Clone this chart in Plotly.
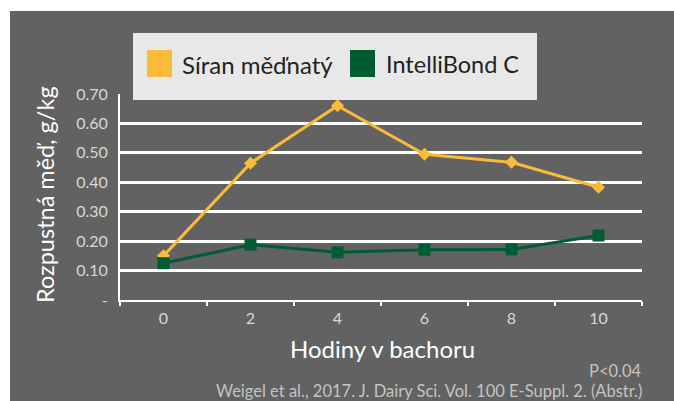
import plotly.graph_objects as go

hours = ["0", "2", "4", "6", "8", "10"]
siran = [0.15, 0.465, 0.66, 0.495, 0.468, 0.383]
intelli = [0.125, 0.188, 0.162, 0.171, 0.172, 0.219]
series_names = ["Síran měďnatý", "IntelliBond C"]
ytick_vals = [0, 0.1, 0.2, 0.3, 0.4, 0.5, 0.6, 0.7]
ytick_text = ["-", "0.10", "0.20", "0.30", "0.40", "0.50", "0.60", "0.70"]

YELLOW = "#FBBA3A"
GREEN = "#005C33"
BG = "#616261"
FONT = "Lato"

W, H = 674, 401
L, R, T, B = 120, 642, 94, 300


def xp(px):
    return (px - L) / (R - L)


def yp(py):
    return (B - py) / (B - T)


fig = go.Figure()
fig.add_trace(go.Scatter(x=hours, y=siran, mode="lines+markers", name=series_names[0],
                         line=dict(color=YELLOW, width=3),
                         marker=dict(symbol="diamond", size=10, color=YELLOW),
                         showlegend=False))
fig.add_trace(go.Scatter(x=hours, y=intelli, mode="lines+markers", name=series_names[1],
                         line=dict(color=GREEN, width=3),
                         marker=dict(symbol="square", size=12, color=GREEN),
                         showlegend=False))

shapes = [
    dict(type="rect", xref="paper", yref="paper", x0=xp(10), x1=xp(W + 5), y0=yp(11), y1=yp(H + 5),
         fillcolor=BG, line=dict(width=0), layer="below"),
    # legend box
    dict(type="rect", xref="paper", yref="paper", x0=xp(133), x1=xp(537), y0=yp(33), y1=yp(100),
         fillcolor="#E8E8E8", line=dict(width=0)),
    dict(type="rect", xref="paper", yref="paper", x0=xp(147), x1=xp(172), y0=yp(50), y1=yp(77),
         fillcolor=YELLOW, line=dict(width=0)),
    dict(type="rect", xref="paper", yref="paper", x0=xp(350), x1=xp(375), y0=yp(50), y1=yp(77),
         fillcolor=GREEN, line=dict(width=0)),
]

annotations = [
    dict(text=series_names[0], xref="paper", yref="paper", x=xp(180), y=yp(64), xanchor="left",
         yanchor="middle", showarrow=False, font=dict(family=FONT, size=24, color="#222222")),
    dict(text=series_names[1], xref="paper", yref="paper", x=xp(384), y=yp(64), xanchor="left",
         yanchor="middle", showarrow=False, font=dict(family=FONT, size=23.5, color="#222222")),
    dict(text="Hodiny v bachoru", xref="paper", yref="paper", x=xp(382), y=yp(348), xanchor="center",
         yanchor="middle", showarrow=False, font=dict(family=FONT, size=24, color="white")),
    dict(text="Rozpustná měď, g/kg", xref="paper", yref="paper", x=xp(45), y=yp(195), xanchor="center",
         yanchor="middle", textangle=-90, showarrow=False, font=dict(family=FONT, size=23.5, color="white")),
    dict(text="P<0.04", xref="paper", yref="paper", x=xp(644), y=yp(371), xanchor="right",
         yanchor="middle", showarrow=False, font=dict(family=FONT, size=16.5, color="#C4C4C4")),
    dict(text="Weigel et al., 2017. J. Dairy Sci. Vol. 100 E-Suppl. 2. (Abstr.)", xref="paper", yref="paper",
         x=xp(644), y=yp(391), xanchor="right", yanchor="middle", showarrow=False,
         font=dict(family=FONT, size=16.5, color="#C4C4C4")),
]

fig.update_layout(
    width=W, height=H,
    margin=dict(l=L, r=W - R, t=T, b=H - B, pad=0),
    paper_bgcolor="white", plot_bgcolor=BG,
    font=dict(family=FONT, color="#D8D8D8"),
    shapes=shapes, annotations=annotations,
    showlegend=False,
    xaxis=dict(type="category", range=[-0.5, 5.5], showgrid=False, zeroline=False,
               showline=True, linecolor="white", linewidth=2,
               ticks="outside", tickson="boundaries", ticklen=4, tickcolor="white", tickwidth=2,
               tickfont=dict(family=FONT, size=16, color="#D8D8D8"), ticklabelstandoff=3),
    yaxis=dict(range=[0, 0.7], tickvals=ytick_vals, ticktext=ytick_text,
               showgrid=True, gridcolor="white", gridwidth=2.5, zeroline=False,
               showline=True, linecolor="white", linewidth=2, ticks="",
               tickfont=dict(family=FONT, size=16, color="#D8D8D8"), ticklabelstandoff=7),
)

fig.write_html("out.html", config={"displayModeBar": False},
               post_script="document.body.style.margin='0';document.body.style.overflow='hidden';")
